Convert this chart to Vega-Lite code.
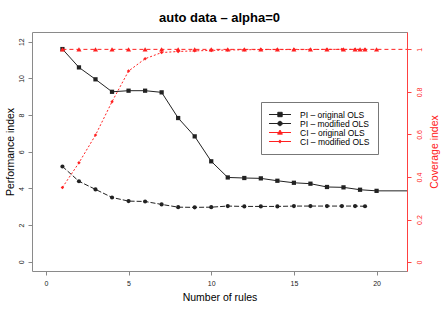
{
  "$schema": "https://vega.github.io/schema/vega-lite/v6.json",
  "autosize": "none",
  "width": 375,
  "height": 239,
  "padding": {"left": 32, "top": 32, "right": 41, "bottom": 40},
  "background": "white",
  "config": {
    "font": "Liberation Sans",
    "view": {"stroke": "#8a8a8a", "strokeWidth": 1}
  },
  "title": {
    "text": "auto data – alpha=0",
    "fontSize": 13,
    "fontWeight": "bold",
    "font": "Liberation Sans",
    "color": "black",
    "anchor": "middle",
    "baseline": "alphabetic",
    "offset": 12,
    "dy": 15
  },
  "datasets": {
    "pi": [
      {"series": "PI – original OLS", "x": 1, "value": 11.6},
      {"series": "PI – original OLS", "x": 2, "value": 10.6},
      {"series": "PI – original OLS", "x": 3, "value": 9.95},
      {"series": "PI – original OLS", "x": 4, "value": 9.27},
      {"series": "PI – original OLS", "x": 5, "value": 9.33},
      {"series": "PI – original OLS", "x": 6, "value": 9.33},
      {"series": "PI – original OLS", "x": 7, "value": 9.24},
      {"series": "PI – original OLS", "x": 8, "value": 7.84},
      {"series": "PI – original OLS", "x": 9, "value": 6.84},
      {"series": "PI – original OLS", "x": 10, "value": 5.48},
      {"series": "PI – original OLS", "x": 11, "value": 4.6},
      {"series": "PI – original OLS", "x": 12, "value": 4.57},
      {"series": "PI – original OLS", "x": 13, "value": 4.55},
      {"series": "PI – original OLS", "x": 14, "value": 4.42},
      {"series": "PI – original OLS", "x": 15, "value": 4.31},
      {"series": "PI – original OLS", "x": 16, "value": 4.26},
      {"series": "PI – original OLS", "x": 17, "value": 4.08},
      {"series": "PI – original OLS", "x": 18, "value": 4.06},
      {"series": "PI – original OLS", "x": 19, "value": 3.93},
      {"series": "PI – original OLS", "x": 20, "value": 3.87},
      {"series": "PI – original OLS", "x": 23, "value": 3.87},
      {"series": "PI – modified OLS", "x": 1, "value": 5.2},
      {"series": "PI – modified OLS", "x": 2, "value": 4.39},
      {"series": "PI – modified OLS", "x": 3, "value": 3.95},
      {"series": "PI – modified OLS", "x": 4, "value": 3.51},
      {"series": "PI – modified OLS", "x": 5, "value": 3.31},
      {"series": "PI – modified OLS", "x": 6, "value": 3.29},
      {"series": "PI – modified OLS", "x": 7, "value": 3.13},
      {"series": "PI – modified OLS", "x": 8, "value": 2.98},
      {"series": "PI – modified OLS", "x": 9, "value": 2.97},
      {"series": "PI – modified OLS", "x": 10, "value": 2.98},
      {"series": "PI – modified OLS", "x": 11, "value": 3.04},
      {"series": "PI – modified OLS", "x": 12, "value": 3.02},
      {"series": "PI – modified OLS", "x": 13, "value": 3.02},
      {"series": "PI – modified OLS", "x": 14, "value": 3.02},
      {"series": "PI – modified OLS", "x": 15, "value": 3.04},
      {"series": "PI – modified OLS", "x": 16, "value": 3.04},
      {"series": "PI – modified OLS", "x": 17, "value": 3.04},
      {"series": "PI – modified OLS", "x": 17.9, "value": 3.04},
      {"series": "PI – modified OLS", "x": 18.7, "value": 3.04},
      {"series": "PI – modified OLS", "x": 19.3, "value": 3.03}
    ],
    "ci": [
      {"series": "CI – original OLS", "x": 1, "value": 1},
      {"series": "CI – original OLS", "x": 2, "value": 1},
      {"series": "CI – original OLS", "x": 3, "value": 1},
      {"series": "CI – original OLS", "x": 4, "value": 1},
      {"series": "CI – original OLS", "x": 5, "value": 1},
      {"series": "CI – original OLS", "x": 6, "value": 1},
      {"series": "CI – original OLS", "x": 7, "value": 1},
      {"series": "CI – original OLS", "x": 8, "value": 1},
      {"series": "CI – original OLS", "x": 9, "value": 1},
      {"series": "CI – original OLS", "x": 10, "value": 1},
      {"series": "CI – original OLS", "x": 11, "value": 1},
      {"series": "CI – original OLS", "x": 12, "value": 1},
      {"series": "CI – original OLS", "x": 13, "value": 1},
      {"series": "CI – original OLS", "x": 14, "value": 1},
      {"series": "CI – original OLS", "x": 15, "value": 1},
      {"series": "CI – original OLS", "x": 16, "value": 1},
      {"series": "CI – original OLS", "x": 17, "value": 1},
      {"series": "CI – original OLS", "x": 18, "value": 1},
      {"series": "CI – original OLS", "x": 18.7, "value": 1},
      {"series": "CI – original OLS", "x": 19, "value": 1},
      {"series": "CI – original OLS", "x": 19.3, "value": 1},
      {"series": "CI – original OLS", "x": 20, "value": 1},
      {"series": "CI – original OLS", "x": 23, "value": 1},
      {"series": "CI – modified OLS", "x": 1, "value": 0.351},
      {"series": "CI – modified OLS", "x": 2, "value": 0.467},
      {"series": "CI – modified OLS", "x": 3, "value": 0.597},
      {"series": "CI – modified OLS", "x": 4, "value": 0.754},
      {"series": "CI – modified OLS", "x": 5, "value": 0.898},
      {"series": "CI – modified OLS", "x": 6, "value": 0.956},
      {"series": "CI – modified OLS", "x": 7, "value": 0.985},
      {"series": "CI – modified OLS", "x": 8, "value": 0.99},
      {"series": "CI – modified OLS", "x": 9, "value": 0.993},
      {"series": "CI – modified OLS", "x": 10, "value": 0.995},
      {"series": "CI – modified OLS", "x": 11, "value": 0.997},
      {"series": "CI – modified OLS", "x": 12, "value": 0.998},
      {"series": "CI – modified OLS", "x": 13, "value": 0.999},
      {"series": "CI – modified OLS", "x": 14, "value": 0.999},
      {"series": "CI – modified OLS", "x": 15, "value": 0.999},
      {"series": "CI – modified OLS", "x": 16, "value": 0.999},
      {"series": "CI – modified OLS", "x": 17, "value": 1},
      {"series": "CI – modified OLS", "x": 17.9, "value": 1},
      {"series": "CI – modified OLS", "x": 18.7, "value": 1},
      {"series": "CI – modified OLS", "x": 19.3, "value": 1}
    ]
  },
  "encoding": {
    "x": {
      "field": "x",
      "type": "quantitative",
      "scale": {"domain": [-0.84, 21.84], "nice": false, "zero": false},
      "axis": {
        "title": "Number of rules",
        "values": [0, 5, 10, 15, 20],
        "domain": false,
        "grid": false,
        "tickColor": "#888",
        "tickSize": 4,
        "labelFontSize": 7,
        "labelColor": "#222",
        "labelPadding": 4,
        "labelBaseline": "top",
        "titleFontSize": 10.5,
        "titleFontWeight": "normal",
        "titleColor": "black",
        "titleX": 187.5,
        "titleY": 26.7,
        "titleBaseline": "middle",
        "titleAlign": "center"
      }
    },
    "color": {
      "field": "series",
      "type": "nominal",
      "scale": {
        "domain": ["PI – original OLS", "PI – modified OLS", "CI – original OLS", "CI – modified OLS"],
        "range": ["#222222", "#222222", "#ff2020", "#ff2020"]
      },
      "legend": {
        "orient": "none",
        "legendX": 229,
        "legendY": 70,
        "title": null,
        "strokeColor": "#777",
        "fillColor": "white",
        "padding": 8,
        "labelFontSize": 8.5,
        "labelColor": "black",
        "labelOffset": 22,
        "symbolSize": 64,
        "symbolStrokeWidth": 1,
        "rowPadding": 0,
        "encode": {
          "symbols": {
            "update": {
              "shape": {"signal": "datum.value == 'PI – original OLS' ? 'M-1.125,0H4.375M1.075,-0.55H2.175V0.55H1.075Z' : datum.value == 'PI – modified OLS' ? 'M-1.125,0H4.375M2.175,0A0.55,0.55 0 1,1 1.075,0A0.55,0.55 0 1,1 2.175,0Z' : datum.value == 'CI – original OLS' ? 'M-1.125,0H4.375M1.625,-0.62L2.225,0.42H1.025Z' : 'M-1.125,0H4.375M1.625,-0.4L2.025,0L1.625,0.4L1.225,0Z'"},
              "size": {"value": 64},
              "fill": {"signal": "substring(datum.value,0,2) == 'PI' ? 'black' : 'red'"},
              "stroke": {"signal": "substring(datum.value,0,2) == 'PI' ? '#333' : '#ff5050'"},
              "strokeWidth": {"value": 1},
              "strokeDash": {"value": [1, 0]},
              "opacity": {"value": 1},
              "fillOpacity": {"value": 1},
              "strokeOpacity": {"value": 1}
            }
          }
        }
      }
    }
  },
  "layer": [
    {
      "data": {"name": "pi"},
      "encoding": {
        "y": {
          "field": "value",
          "type": "quantitative",
          "scale": {"domain": [-0.5, 12.53], "nice": false, "zero": false},
          "axis": {
            "orient": "left",
            "title": "Performance index",
            "values": [0, 2, 4, 6, 8, 10, 12],
            "domain": false,
            "grid": false,
            "tickColor": "#888",
            "tickSize": 4,
            "labelFontSize": 7,
            "labelColor": "#222",
            "labelAngle": 270,
            "labelAlign": "center",
            "labelBaseline": "middle",
            "labelPadding": 7,
            "titleFontSize": 10.5,
            "titleFontWeight": "normal",
            "titleColor": "black",
            "titleAngle": 270,
            "titleX": -22,
            "titleY": 119.5,
            "titleAlign": "center",
            "titleBaseline": "middle"
          }
        }
      },
      "layer": [
        {
          "transform": [{"filter": "datum.series == 'PI – original OLS'"}],
          "mark": {"type": "line", "strokeWidth": 1, "clip": true}
        },
        {
          "transform": [{"filter": "datum.series == 'PI – modified OLS'"}],
          "mark": {"type": "line", "strokeWidth": 1, "strokeDash": [5, 2], "clip": true}
        },
        {
          "transform": [{"filter": "datum.series == 'PI – original OLS'"}],
          "mark": {"type": "point", "shape": "square", "size": 18, "filled": true, "opacity": 1, "clip": true}
        },
        {
          "transform": [{"filter": "datum.series == 'PI – modified OLS'"}],
          "mark": {"type": "point", "shape": "circle", "size": 17, "filled": true, "opacity": 1, "clip": true}
        }
      ]
    },
    {
      "data": {"name": "ci"},
      "encoding": {
        "y": {
          "field": "value",
          "type": "quantitative",
          "scale": {"domain": [-0.0416, 1.0816], "nice": false, "zero": false},
          "axis": {
            "orient": "right",
            "title": "Coverage index",
            "values": [0, 0.2, 0.4, 0.6, 0.8, 1],
            "format": "~g",
            "domain": true,
            "domainColor": "#ff4040",
            "grid": false,
            "tickColor": "#ff4040",
            "tickSize": 4,
            "labelFontSize": 7,
            "labelColor": "#ff2020",
            "labelAngle": 270,
            "labelAlign": "center",
            "labelBaseline": "middle",
            "labelPadding": 8,
            "titleFontSize": 10.5,
            "titleFontWeight": "normal",
            "titleColor": "#ff2020",
            "titleAngle": 270,
            "titleX": 27.3,
            "titleY": 119.5,
            "titleAlign": "center",
            "titleBaseline": "middle"
          }
        }
      },
      "layer": [
        {
          "transform": [{"filter": "datum.series == 'CI – original OLS'"}],
          "mark": {"type": "line", "strokeWidth": 1, "strokeDash": [4, 3], "clip": true}
        },
        {
          "transform": [{"filter": "datum.series == 'CI – modified OLS'"}],
          "mark": {"type": "line", "strokeWidth": 1, "strokeDash": [2, 2], "clip": true}
        },
        {
          "transform": [{"filter": "datum.series == 'CI – original OLS'"}],
          "mark": {"type": "point", "shape": "triangle-up", "size": 26, "filled": true, "opacity": 1, "clip": true}
        },
        {
          "transform": [{"filter": "datum.series == 'CI – modified OLS'"}],
          "mark": {"type": "point", "shape": "diamond", "size": 12, "filled": true, "opacity": 1, "clip": true}
        }
      ]
    }
  ],
  "resolve": {"scale": {"y": "independent"}, "axis": {"y": "independent"}}
}
